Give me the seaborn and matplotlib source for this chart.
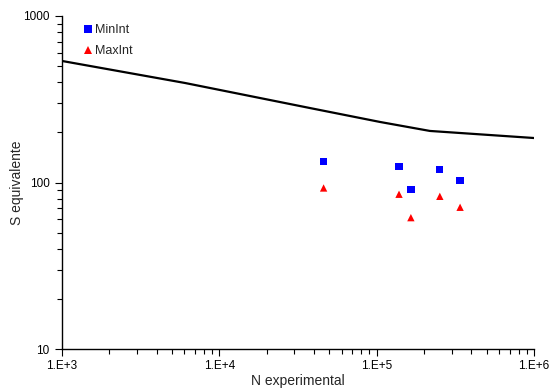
import matplotlib
matplotlib.use("Agg")
import matplotlib.pyplot as plt
import seaborn as sns
import pandas as pd
from matplotlib.ticker import FixedLocator, NullFormatter

# Curve (S-N design line)
curve_n = [1e3, 6.05e3, 3.77e4, 1.05e5, 2.18e5, 1e6]
curve_s = [537, 396, 280, 231, 204, 185]

# Experimental points
n_exp = [46000, 138700, 165000, 252000, 339000]
s_minint = [134, 125, 91, 120, 102.5]
s_maxint = [92.7, 85, 61.5, 82.6, 71]

x_ticks = [1e3, 1e4, 1e5, 1e6]
x_labels = ["1.E+3", "1.E+4", "1.E+5", "1.E+6"]
y_ticks = [10, 100, 1000]
y_labels = ["10", "100", "1000"]

sns.set_style("ticks")
plt.rcParams["font.family"] = ["Liberation Sans", "DejaVu Sans"]

fig = plt.figure(figsize=(5.5, 3.92), dpi=100)
ax = fig.add_axes([62/550, 1-349/392, (534-62)/550, (349-16)/392])

curve = pd.DataFrame({"N": curve_n, "S": curve_s})
sns.lineplot(data=curve, x="N", y="S", ax=ax, color="black", linewidth=1.6, legend=False)

pts = pd.DataFrame({"N": n_exp + n_exp, "S": s_minint + s_maxint,
                    "serie": ["MinInt"]*len(n_exp) + ["MaxInt"]*len(n_exp)})
sns.scatterplot(data=pts, x="N", y="S", hue="serie", style="serie",
                palette={"MinInt": "#0000ff", "MaxInt": "#ff0000"},
                markers={"MinInt": "s", "MaxInt": "^"},
                s=28, linewidth=0, ax=ax)

ax.set_xscale("log")
ax.set_yscale("log")
ax.set_xlim(1e3, 1e6)
ax.set_ylim(10, 1000)
ax.xaxis.set_major_locator(FixedLocator(x_ticks))
ax.set_xticklabels(x_labels)
ax.yaxis.set_major_locator(FixedLocator(y_ticks))
ax.set_yticklabels(y_labels)

def minors(lo, hi):
    out = []
    d = lo
    while d < hi:
        out += [d * k for k in range(2, 10)]
        d *= 10
    return out

ax.xaxis.set_minor_locator(FixedLocator(minors(1e3, 1e6)))
ax.yaxis.set_minor_locator(FixedLocator(minors(10, 1000)))
ax.xaxis.set_minor_formatter(NullFormatter())
ax.yaxis.set_minor_formatter(NullFormatter())
ax.tick_params(which="major", length=5, width=0.8, labelsize=8.5, colors="black", pad=4)
ax.tick_params(which="minor", length=3.5, width=0.8, color="black", bottom=True, left=True)
ax.tick_params(axis="x", which="major", pad=3)
for sp in ["top", "right"]:
    ax.spines[sp].set_visible(False)
for sp in ["left", "bottom"]:
    ax.spines[sp].set_linewidth(1)
    ax.spines[sp].set_color("black")

ax.set_xlabel("N experimental", fontsize=10, labelpad=1)
ax.set_ylabel("S equivalente", fontsize=10, labelpad=-1)

leg = ax.legend(loc="upper left", bbox_to_anchor=(0.012, 1.01), frameon=False,
                fontsize=9, handletextpad=-0.2, handlelength=1.5,
                labelspacing=0.75, markerscale=1.0)
leg.set_title(None)

fig.savefig("out.png", dpi=100)
